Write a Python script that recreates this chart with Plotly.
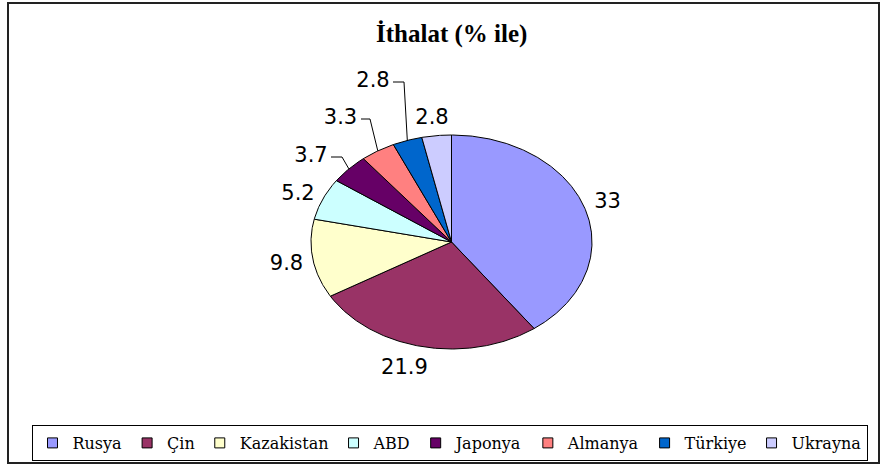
import numpy as np
import plotly.graph_objects as go

# ---- data ----
countries = ["Rusya", "Çin", "Kazakistan", "ABD", "Japonya", "Almanya", "Türkiye", "Ukrayna"]
values = [33, 21.9, 9.8, 5.2, 3.7, 3.3, 2.8, 2.8]
value_labels = ["33", "21.9", "9.8", "5.2", "3.7", "3.3", "2.8", "2.8"]
title_text = "İthalat (% ile)"

# ---- style / layout ----
colors = ["#9999FF", "#993366", "#FFFFCC", "#CCFFFF", "#660066", "#FF8080", "#0066CC", "#CCCCFF"]
W, H = 883, 466
CX, CY, RX, RY = 451.5, 242.0, 140.5, 107.0  # pie centre / radii in pixels
label_px = [(607.5, 203), (404.5, 369), (286.5, 264.5), (298, 195),
            (311, 157), (340.5, 119), (373, 82), (432, 119)]
leader_px = {4: (331, 342), 5: (361, 370), 6: (393, 404)}  # label index -> (start x, elbow x)


def dx(px):
    return (px - CX) / RX


def dy(py):
    return (CY - py) / RY


fig = go.Figure()

total = float(sum(values))
cum = 0.0
mids = []
for i, v in enumerate(values):
    a0 = cum / total * 2 * np.pi
    a1 = (cum + v) / total * 2 * np.pi
    n = max(3, int(np.degrees(a1 - a0)) * 2 + 2)
    th = np.linspace(a0, a1, n)
    xs = [0.0] + list(np.sin(th)) + [0.0]
    ys = [0.0] + list(np.cos(th)) + [0.0]
    fig.add_trace(go.Scatter(
        x=xs, y=ys, mode="lines", fill="toself", fillcolor=colors[i],
        line=dict(color="black", width=1), showlegend=False, hoverinfo="skip"))
    mids.append((a0 + a1) / 2)
    cum += v

# leader lines
for i, (sx, ex) in leader_px.items():
    ly = label_px[i][1]
    am = mids[i]
    fig.add_trace(go.Scatter(
        x=[dx(sx), dx(ex), np.sin(am)], y=[dy(ly), dy(ly), np.cos(am)],
        mode="lines", line=dict(color="black", width=1),
        showlegend=False, hoverinfo="skip"))

# data labels
fig.add_trace(go.Scatter(
    x=[dx(p[0]) for p in label_px], y=[dy(p[1]) for p in label_px],
    mode="text", text=value_labels, textposition="middle center",
    textfont=dict(family="DejaVu Sans", size=21, color="black"),
    showlegend=False, hoverinfo="skip", cliponaxis=False))

# legend entries
for name, c in zip(countries, colors):
    fig.add_trace(go.Scatter(
        x=[None], y=[None], mode="markers", name=name,
        marker=dict(symbol="square", size=10, color=c, line=dict(color="black", width=1))))

fig.add_annotation(
    text="<b>" + title_text + "</b>", x=451.5 / W, y=1 - 34 / H, xref="paper", yref="paper",
    xanchor="center", yanchor="middle", showarrow=False,
    font=dict(family="Liberation Serif", size=25, color="black"))

fig.add_shape(type="rect", xref="paper", yref="paper",
              x0=8 / W, x1=879 / W, y0=1 - 463 / H, y1=1 - 3 / H,
              line=dict(color="#222222", width=2))

fig.update_layout(
    width=W, height=H, margin=dict(l=0, r=0, t=0, b=0),
    paper_bgcolor="white", plot_bgcolor="white",
    xaxis=dict(range=[dx(0), dx(W)], visible=False, fixedrange=True),
    yaxis=dict(range=[dy(H), dy(0)], visible=False, fixedrange=True),
    showlegend=True,
    legend=dict(orientation="h", x=449.5 / W, xanchor="center", y=1 - 425 / H, yanchor="top",
                bordercolor="black", borderwidth=1, bgcolor="white",
                font=dict(family="DejaVu Serif", size=16, color="black"),
                itemclick=False, itemdoubleclick=False),
)

fig.write_html("out.html", config={"displayModeBar": False},
               post_script="document.body.style.margin='0';document.body.style.overflow='hidden';")
